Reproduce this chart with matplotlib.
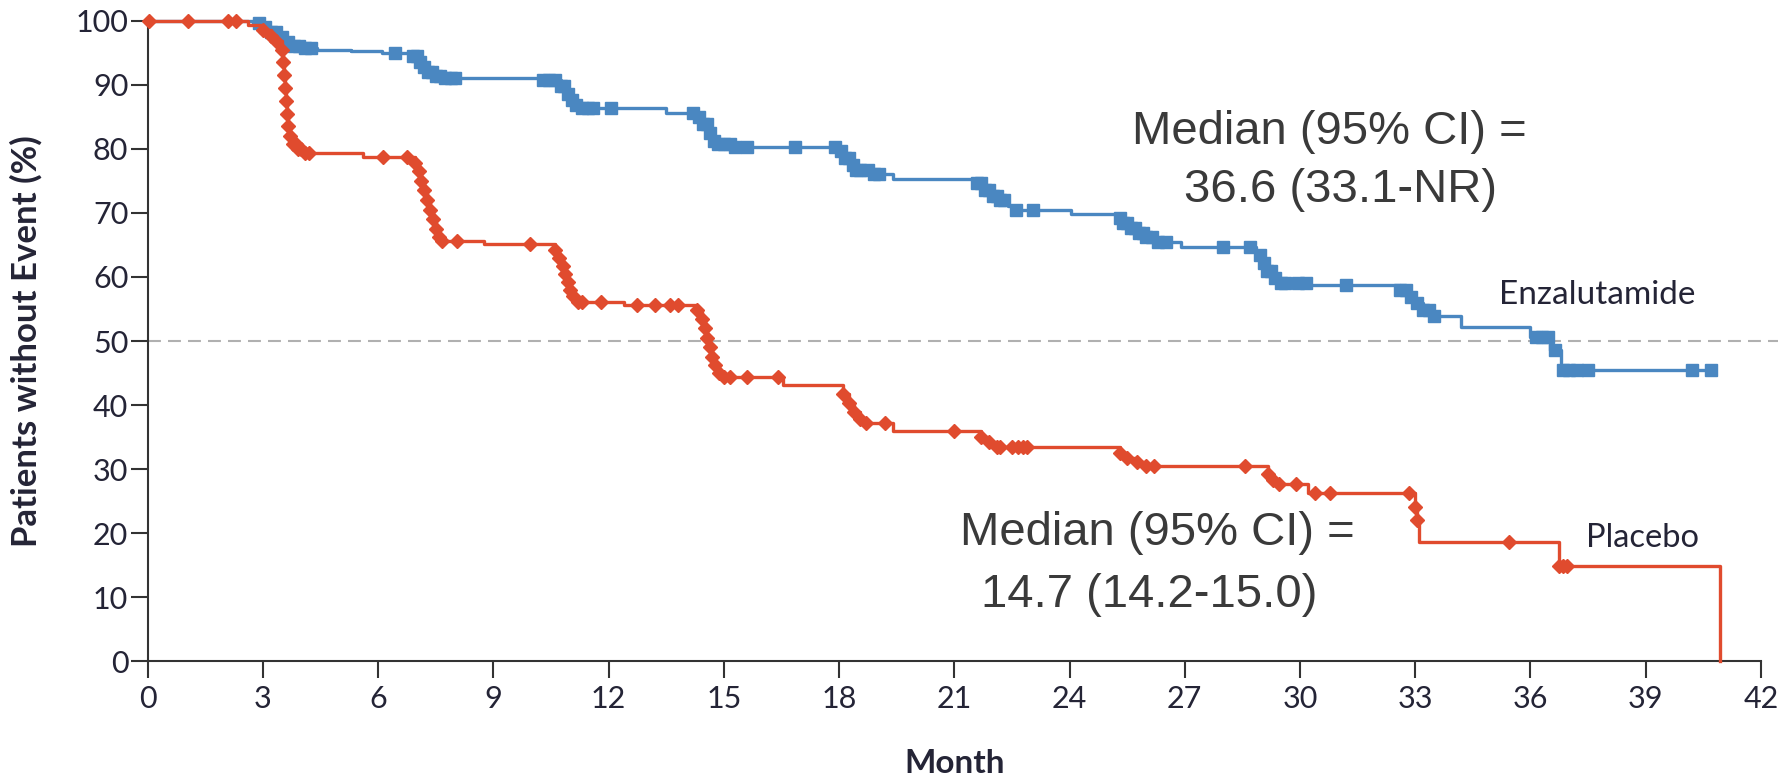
import numpy as np
import matplotlib
matplotlib.use("Agg")
import matplotlib.pyplot as plt

# Kaplan-Meier step data (month, % without event after the step)
enz_times = [0, 2.75, 3.0, 3.2, 3.4, 3.6, 3.8, 4.0, 4.4, 5.3, 6.1, 6.9, 7.05, 7.15,
             7.3, 7.45, 7.7, 10.3, 10.75, 10.9, 11.0, 11.15, 11.3, 13.5, 14.3, 14.45,
             14.6, 14.7, 14.85, 15.2, 18.0, 18.15, 18.3, 18.45, 18.9, 19.4, 21.6, 21.8,
             21.95, 22.15, 22.4, 22.6, 24.05, 25.2, 25.4, 25.6, 25.8, 26.0, 26.3, 26.9,
             28.85, 29.0, 29.15, 29.3, 29.5, 30.2, 32.6, 32.8, 33.0, 33.2, 33.45, 34.2,
             36.0, 36.5, 36.8]
enz_surv = [100, 99.6, 99.0, 98.3, 97.4, 96.6, 96.0, 95.7, 95.5, 95.2, 94.9, 94.5, 93.6, 92.8,
            92.0, 91.4, 91.0, 90.7, 89.8, 88.6, 87.6, 86.8, 86.3, 85.6, 85.0, 83.8,
            82.4, 81.3, 80.7, 80.3, 79.6, 78.5, 77.5, 76.7, 76.0, 75.3, 74.6, 73.6,
            72.7, 72.0, 71.0, 70.5, 69.9, 69.2, 68.5, 67.7, 66.9, 66.2, 65.5, 64.7,
            63.5, 62.2, 61.0, 59.9, 59.0, 58.7, 57.9, 56.9, 56.0, 54.8, 53.9, 52.2,
            50.6, 48.6, 45.5]
enz_end = 40.8
enz_censor = [2.9, 3.05, 3.2, 3.35, 3.5, 3.65, 3.8, 3.95, 4.1, 4.25, 6.45, 6.9, 7.0, 7.1,
              7.2, 7.3, 7.4, 7.5, 7.6, 7.75, 7.9, 8.0, 10.3, 10.45, 10.6, 10.75, 10.85,
              10.95, 11.05, 11.15, 11.3, 11.45, 11.6, 12.05, 14.2, 14.35, 14.45, 14.55,
              14.65, 14.75, 14.85, 15.0, 15.15, 15.3, 15.6, 16.85, 17.9, 18.05, 18.15,
              18.25, 18.35, 18.45, 18.55, 18.75, 18.9, 19.05, 21.6, 21.7, 21.8, 21.9,
              22.0, 22.1, 22.2, 22.3, 22.6, 23.05, 25.3, 25.4, 25.5, 25.6, 25.7, 25.8,
              25.9, 26.0, 26.15, 26.3, 26.5, 28.0, 28.7, 28.95, 29.05, 29.15, 29.25,
              29.35, 29.5, 29.6, 29.95, 30.15, 31.2, 32.6, 32.75, 32.9, 33.05, 33.2,
              33.35, 33.5, 36.15, 36.3, 36.45, 36.65, 36.85, 37.0, 37.2, 37.5, 40.2, 40.7]

pbo_times = [0, 2.6, 3.0, 3.2, 3.35, 3.5, 3.52, 3.55, 3.58, 3.6, 3.63, 3.66, 3.7, 3.78,
             3.9, 4.05, 5.6, 6.95, 7.05, 7.12, 7.2, 7.28, 7.35, 7.42, 7.5, 7.58, 7.65,
             8.75, 10.6, 10.7, 10.8, 10.87, 10.93, 11.0, 11.08, 11.2, 12.4, 14.3, 14.42,
             14.5, 14.57, 14.63, 14.7, 14.78, 14.88, 15.0, 16.55, 18.1, 18.25, 18.4,
             18.55, 18.7, 19.4, 21.7, 21.9, 22.1, 25.3, 25.5, 25.75, 26.0, 29.17, 29.3,
             29.45, 30.2, 33.0, 33.05, 33.1, 36.75, 40.93]
pbo_surv = [100, 99.4, 98.6, 97.6, 96.8, 95.5, 93.5, 91.5, 89.5, 87.5, 85.5, 83.5, 82.0, 80.8,
            80.0, 79.3, 78.8, 77.8, 76.5, 75.0, 73.5, 72.0, 70.5, 69.0, 67.5, 66.3, 65.6,
            65.1, 64.2, 63.0, 61.7, 60.4, 59.2, 58.0, 57.0, 56.1, 55.6, 54.8, 53.5,
            52.0, 50.5, 49.0, 47.5, 46.2, 45.0, 44.4, 43.1, 41.8, 40.3, 38.9,
            37.8, 37.2, 35.9, 35.0, 34.2, 33.5, 32.5, 31.8, 31.1, 30.5, 29.3, 28.3,
            27.7, 26.3, 24.1, 22.1, 18.7, 14.9, 0]
pbo_end = 40.93
pbo_censor = [0.03, 1.05, 2.1, 2.3, 3.0, 3.2, 3.35, 3.5, 3.52, 3.55, 3.58, 3.6, 3.63, 3.66,
              3.7, 3.78, 3.85, 3.9, 4.0, 4.1, 4.2, 6.13, 6.75, 6.95, 7.05, 7.12, 7.2, 7.28,
              7.35, 7.42, 7.5, 7.58, 7.65, 8.05, 9.95, 10.6, 10.7, 10.8, 10.87, 10.93,
              11.0, 11.08, 11.2, 11.3, 11.8, 12.75, 13.2, 13.6, 13.8, 14.3, 14.42, 14.5,
              14.57, 14.63, 14.7, 14.78, 14.88, 15.0, 15.15, 15.6, 16.4, 18.1, 18.25,
              18.4, 18.55, 18.7, 19.2, 21.0, 21.7, 21.9, 22.1, 22.2, 22.5, 22.65, 22.8,
              22.9, 25.3, 25.5, 25.75, 26.0, 26.2, 28.56, 29.17, 29.3, 29.45, 29.9,
              30.38, 30.77, 32.85, 33.0, 33.05, 35.43, 36.75, 36.85, 36.95]

x_ticks = list(range(0, 43, 3))
y_ticks = list(range(0, 101, 10))
enz_median_text = ["Median (95% CI) =", "36.6 (33.1-NR)"]
pbo_median_text = ["Median (95% CI) =", "14.7 (14.2-15.0)"]

BLUE = "#4a87c1"
RED = "#e04b2e"
AXIS = "#333333"
TICK_TXT = "#242436"
NOTE = "#3a3a3a"
UI_FONT = ["Lato", "DejaVu Sans"]


def step_xy(times, surv, end):
    t = list(times) + [end]
    s = list(surv) + [surv[-1]]
    return t, s


def value_at(times, surv, when):
    idx = np.searchsorted(np.asarray(times), np.asarray(when), side="right") - 1
    return np.asarray(surv)[idx]


fig = plt.figure(figsize=(17.78, 7.76), dpi=100)
ax = fig.add_axes([0.0831, 0.1478, 0.9073, 0.8255])
ax.set_xlim(0, 42)
ax.set_ylim(0, 100)

# reference line at 50%
ax.plot([0, 42.45], [50, 50], color="#b0b0b0", lw=1.5, dashes=(6.2, 3.4),
        clip_on=False, zorder=1)

# Enzalutamide
t, s = step_xy(enz_times, enz_surv, enz_end)
ax.step(t, s, where="post", color=BLUE, lw=2.4, clip_on=False, zorder=3)
ax.plot(enz_censor, value_at(enz_times, enz_surv, enz_censor), ls="none",
        marker="s", ms=8.5, color=BLUE, mec=BLUE, clip_on=False, zorder=3)

# Placebo
t, s = step_xy(pbo_times, pbo_surv, pbo_end)
ax.step(t, s, where="post", color=RED, lw=2.4, clip_on=False, zorder=4)
ax.plot(pbo_censor, value_at(pbo_times, pbo_surv, pbo_censor), ls="none",
        marker="D", ms=7.3, color=RED, mec=RED, clip_on=False, zorder=4)

# axes styling
for side in ("top", "right"):
    ax.spines[side].set_visible(False)
for side in ("left", "bottom"):
    ax.spines[side].set_color(AXIS)
    ax.spines[side].set_linewidth(1.5)
ax.set_xticks(x_ticks)
ax.set_yticks(y_ticks)
ax.tick_params(axis="both", direction="out", length=12, width=1.5, color=AXIS,
               labelcolor=TICK_TXT, labelsize=22)
ax.tick_params(axis="y", pad=2)
ax.tick_params(axis="x", pad=5)
for lab in ax.get_xticklabels() + ax.get_yticklabels():
    lab.set_family(UI_FONT)

ax.set_xlabel("Month", family=UI_FONT, fontweight="bold", fontsize=24,
              color=TICK_TXT, labelpad=26)
ax.set_ylabel("Patients without Event (%)", family=UI_FONT, fontweight="bold",
              fontsize=25, color=TICK_TXT, labelpad=24)

# curve labels
ax.text(35.19, 57.2, "Enzalutamide", family=UI_FONT, fontsize=24, color=TICK_TXT,
        ha="left", va="center")
ax.text(37.45, 19.2, "Placebo", family=UI_FONT, fontsize=23.5, color=TICK_TXT,
        ha="left", va="center")

# median annotations
note_kw = dict(family=["Liberation Sans", "DejaVu Sans"], fontsize=34, color=NOTE,
               ha="center", va="center")
ax.text(30.77, 82.7, enz_median_text[0], **note_kw)
ax.text(31.05, 73.5, enz_median_text[1], **note_kw)
ax.text(26.29, 20.0, pbo_median_text[0], **note_kw)
ax.text(26.08, 10.35, pbo_median_text[1], **note_kw)

fig.savefig("out.png", dpi=100)
